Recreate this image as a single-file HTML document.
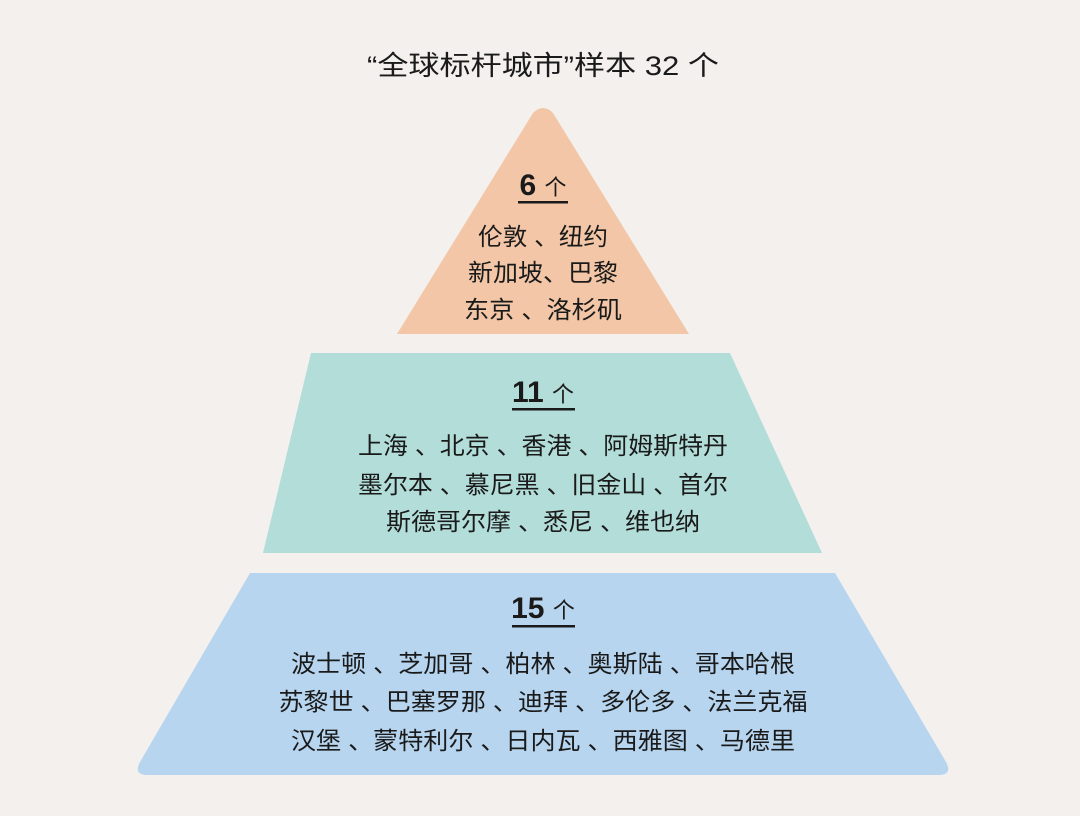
<!DOCTYPE html>
<html><head><meta charset="utf-8"><style>
body{margin:0;background:#f3f0ee;}
svg{display:block}
text{font-family:"Liberation Sans","Noto Sans CJK SC",sans-serif;fill:#1a1a1a}
</style></head><body>
<svg width="1080" height="816" viewBox="0 0 1080 816">
<rect width="1080" height="816" fill="#f3f0ee"/>
<text x="543" y="75" font-size="27" text-anchor="middle" textLength="352" lengthAdjust="spacingAndGlyphs">“全球标杆城市”样本 32 个</text>
<path d="M533,113 Q543,103 553,113 L689,334 L397,334 Z" fill="#f2c6a6"/>
<path d="M311,353 L730,353 L822,553 L263,553 Z" fill="#b3ddd9"/>
<path d="M250,573 L835,573 L946,762 Q953,775 938,775 L148,775 Q133,775 140,762 Z" fill="#b7d5ef"/>
<g font-size="24" text-anchor="middle">
<text x="543" y="195" font-size="30" font-weight="bold">6 <tspan font-size="22" font-weight="normal">个</tspan></text>
<rect x="518" y="201" width="50" height="2.5" fill="#1a1a1a"/>
<text x="543" y="245" textLength="130" lengthAdjust="spacingAndGlyphs">伦敦 、纽约</text>
<text x="543" y="281" textLength="150" lengthAdjust="spacingAndGlyphs">新加坡、巴黎</text>
<text x="543" y="318" textLength="158" lengthAdjust="spacingAndGlyphs">东京 、洛杉矶</text>
<text x="543" y="402" font-size="30" font-weight="bold">11 <tspan font-size="22" font-weight="normal">个</tspan></text>
<rect x="512" y="408" width="63" height="2.5" fill="#1a1a1a"/>
<text x="543" y="454" textLength="370" lengthAdjust="spacingAndGlyphs">上海 、北京 、香港 、阿姆斯特丹</text>
<text x="543" y="493" textLength="370" lengthAdjust="spacingAndGlyphs">墨尔本 、慕尼黑 、旧金山 、首尔</text>
<text x="543" y="530" textLength="314" lengthAdjust="spacingAndGlyphs">斯德哥尔摩 、悉尼 、维也纳</text>
<text x="543" y="618" font-size="30" font-weight="bold">15 <tspan font-size="22" font-weight="normal">个</tspan></text>
<rect x="512" y="625" width="63" height="2.5" fill="#1a1a1a"/>
<text x="543" y="672" textLength="504" lengthAdjust="spacingAndGlyphs">波士顿 、芝加哥 、柏林 、奥斯陆 、哥本哈根</text>
<text x="543" y="710" textLength="529" lengthAdjust="spacingAndGlyphs">苏黎世 、巴塞罗那 、迪拜 、多伦多 、法兰克福</text>
<text x="543" y="749" textLength="504" lengthAdjust="spacingAndGlyphs">汉堡 、蒙特利尔 、日内瓦 、西雅图 、马德里</text>
</g>
</svg>
</body></html>
